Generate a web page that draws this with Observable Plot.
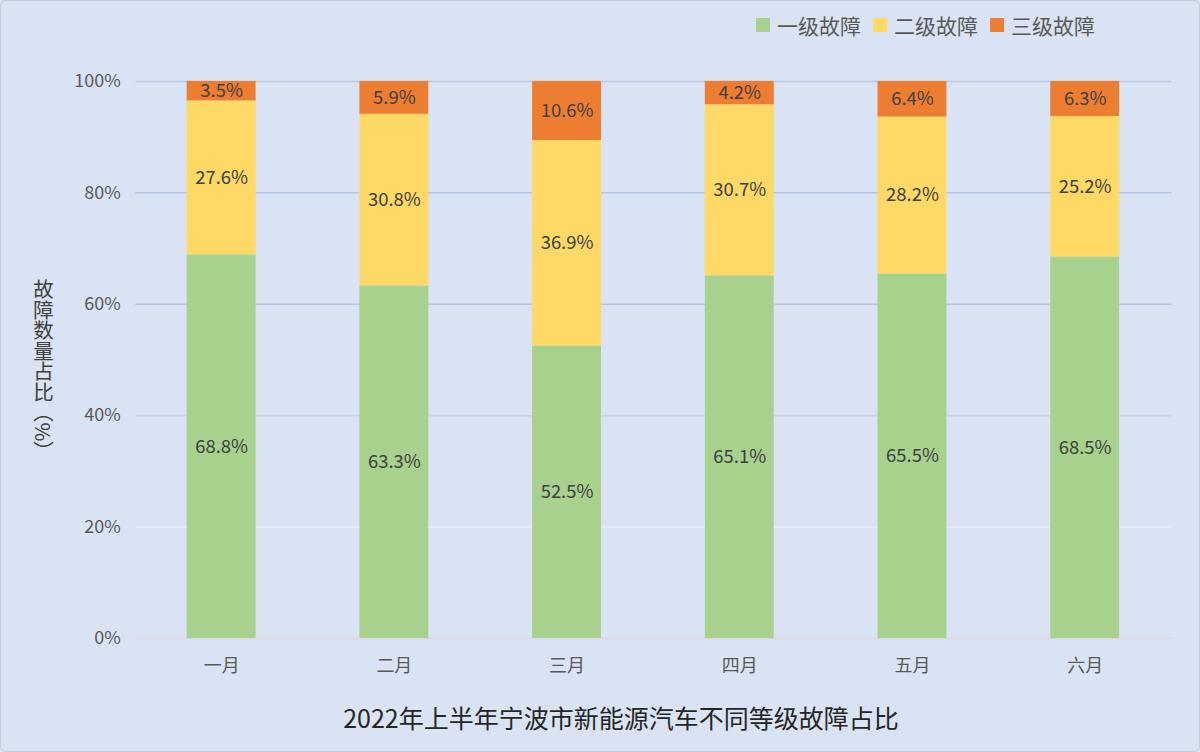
<!DOCTYPE html>
<html>
<head>
<meta charset="utf-8">
<script src="https://cdn.jsdelivr.net/npm/d3@7"></script>
<script src="https://cdn.jsdelivr.net/npm/@observablehq/plot@0.6"></script>
<style>
  html, body { margin: 0; padding: 0; background: #dae3f3; }
  #wrap {
    position: relative; width: 1200px; height: 752px; box-sizing: border-box;
    background: #dae3f3; border: 1px solid #c6cad2; border-radius: 6px; overflow: hidden;
    font-family: "Noto Sans CJK SC", "Noto Sans", sans-serif;
  }
  #legend { position: absolute; left: 755px; top: 9px; display: flex; align-items: center;
    font-size: 21px; color: #595959; }
  #legend .item { display: flex; align-items: center; margin-right: 12px; }
  #legend .sw { width: 14px; height: 14px; margin-right: 7px; }
  #chart { position: absolute; left: 0; top: 48px; }
  #ylabel { position: absolute; left: 32px; top: 278px; writing-mode: vertical-rl;
    font-size: 20.5px; color: #404040; line-height: 1; }
  #title { position: absolute; left: 620px; top: 698px; transform: translateX(-50%);
    font-size: 25px; color: #262626; white-space: nowrap; }
</style>
</head>
<body>
<div id="wrap">
  <div id="legend"></div>
  <div id="chart"></div>
  <div id="ylabel">故障数量占比（%）</div>
  <div id="title">2022年上半年宁波市新能源汽车不同等级故障占比</div>
</div>
<script>
const months = ["一月", "二月", "三月", "四月", "五月", "六月"];
const levels = ["一级故障", "二级故障", "三级故障"];
const level1 = [68.8, 63.3, 52.5, 65.1, 65.5, 68.5];
const level2 = [27.6, 30.8, 36.9, 30.7, 28.2, 25.2];
const level3 = [3.5, 5.9, 10.6, 4.2, 6.4, 6.3];
const yTicks = [0, 0.2, 0.4, 0.6, 0.8, 1.0];

const colors = ["#a9d18e", "#ffd966", "#ed7d31"];
const gridColors = ["#dcd5df", "#e9eff9", "#c5d3ea", "#b6c6e3", "#b4c5e3", "#b6c6e3"];

const series = [level1, level2, level3];
const data = [];
levels.forEach((lv, i) => months.forEach((m, j) => data.push({month: m, level: lv, value: series[i][j]})));

// legend
const legend = document.getElementById("legend");
levels.forEach((lv, i) => {
  const it = document.createElement("div");
  it.className = "item";
  it.innerHTML = `<div class="sw" style="background:${colors[i]}"></div><span>${lv}</span>`;
  legend.appendChild(it);
});

const stackOpts = {x: "month", y: "value", z: "level", offset: "normalize"};

const chart = Plot.plot({
  width: 1200,
  height: 650,
  marginTop: 32,
  marginBottom: 60,
  marginLeft: 134.5,
  marginRight: 27.5,
  style: {background: "transparent", fontFamily: "'Noto Sans CJK SC', 'Noto Sans', sans-serif", fontSize: "18px", color: "#595959"},
  x: {domain: months, paddingInner: 0.6, paddingOuter: 0.3, label: null},
  y: {domain: [0, 1], label: null},
  color: {domain: levels, range: colors},
  marks: [
    Plot.ruleY(yTicks, {y: d => d, stroke: (d, i) => gridColors[i], strokeWidth: 1.5}),
    Plot.barY(data, Plot.stackY({...stackOpts, fill: "level"})),
    Plot.text(data, Plot.stackY({...stackOpts, text: d => d.value.toFixed(1) + "%", fill: "#404040", fontSize: 18.5})),
    Plot.axisY({ticks: yTicks, tickFormat: d => Math.round(d * 100) + "%", tickSize: 0, tickPadding: 15, label: null, fill: "#595959"}),
    Plot.axisX({tickSize: 0, tickPadding: 21, label: null, fill: "#595959"})
  ]
});
document.getElementById("chart").appendChild(chart);
</script>
</body>
</html>
